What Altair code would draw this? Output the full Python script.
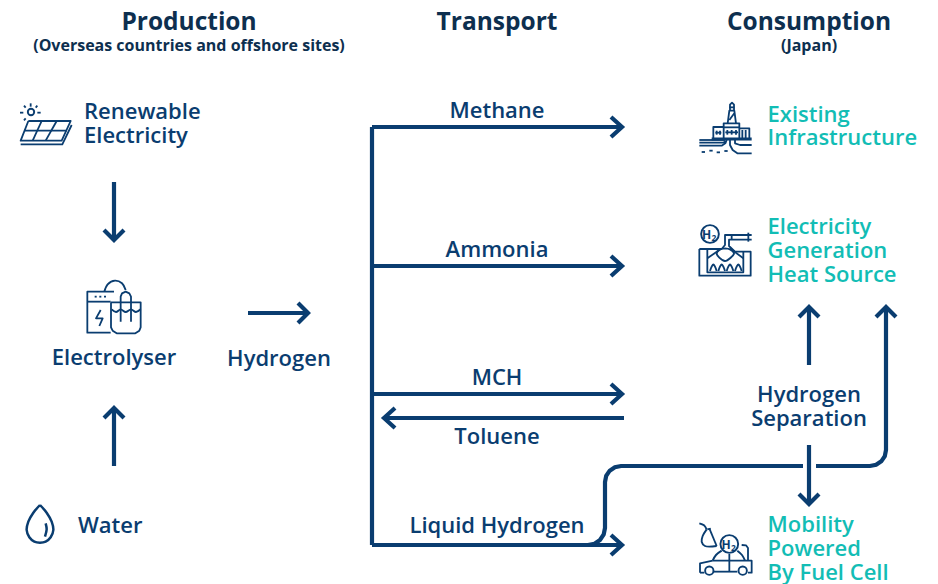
import altair as alt
import pandas as pd

NAVY = "#0a3d70"
TEAL = "#12bdb5"
DARK = "#0d2f4f"
FONT = "Open Sans"

# (text, x, baseline y, size, weight, colour, align)
texts = [
    ("Production", 189, 30, 24.5, 700, DARK, "center"),
    ("(Overseas countries and offshore sites)", 189, 51, 16, 700, DARK, "center"),
    ("Transport", 497, 30, 24.5, 700, DARK, "center"),
    ("Consumption", 809, 30, 24.5, 700, DARK, "center"),
    ("(Japan)", 809, 51, 16, 700, DARK, "center"),
    ("Renewable", 84, 119, 22, 600, NAVY, "left"),
    ("Electricity", 84, 143, 22, 600, NAVY, "left"),
    ("Electrolyser", 114, 365, 22, 600, NAVY, "center"),
    ("Hydrogen", 279, 366, 22, 600, NAVY, "center"),
    ("Water", 78, 533, 22, 600, NAVY, "left"),
    ("Methane", 497, 118, 22, 600, NAVY, "center"),
    ("Ammonia", 497, 257, 22, 600, NAVY, "center"),
    ("MCH", 497, 385, 22, 600, NAVY, "center"),
    ("Toluene", 497, 444, 22, 600, NAVY, "center"),
    ("Liquid Hydrogen", 497, 533, 22, 600, NAVY, "center"),
    ("Hydrogen", 809, 402, 22, 600, NAVY, "center"),
    ("Separation", 809, 426, 22, 600, NAVY, "center"),
    ("Existing", 767.5, 122, 22, 600, TEAL, "left"),
    ("Infrastructure", 767.5, 145, 22, 600, TEAL, "left"),
    ("Electricity", 767.5, 234, 22, 600, TEAL, "left"),
    ("Generation", 767.5, 258, 22, 600, TEAL, "left"),
    ("Heat Source", 767.5, 282, 22, 600, TEAL, "left"),
    ("Mobility", 767.5, 532, 22, 600, TEAL, "left"),
    ("Powered", 767.5, 556, 22, 600, TEAL, "left"),
    ("By Fuel Cell", 767.5, 580, 22, 600, TEAL, "left"),
    ("H", 706.5, 238.5, 12, 700, NAVY, "center"),
    ("2", 714, 240.5, 8.5, 700, NAVY, "center"),
    ("H", 726, 548.5, 12, 700, NAVY, "center"),
    ("2", 733.5, 550.5, 8.5, 700, NAVY, "center"),
]

# Thick connector lines and arrow heads, in picture pixels
arrows = [
    [(372, 127), (372, 545)],
    [(372, 127), (621, 127)], [(611, 117), (622, 127), (611, 137)],
    [(372, 266), (621, 266)], [(611, 256), (622, 266), (611, 276)],
    [(372, 394), (621, 394)], [(611, 384), (622, 394), (611, 404)],
    [(624, 418), (386, 418)], [(395, 408), (384, 418), (395, 428)],
    [(372, 545), (621, 545)], [(611, 535), (622, 545), (611, 555)],
    [(114, 182), (114, 238)], [(104, 230), (114, 240), (124, 230)],
    [(114, 466), (114, 410)], [(104, 418), (114, 408), (124, 418)],
    [(248, 313), (306, 313)], [(298, 303), (308, 313), (298, 323)],
    [(809, 365), (809, 309)], [(799, 317), (809, 307), (819, 317)],
    [(809, 445), (809, 503)], [(799, 494), (809, 504), (819, 494)],
    [(588, 545), (594.5, 543.7), (600, 540), (603.7, 534.5), (605, 528), (605, 482),
     (606.2, 475.9), (609.7, 470.7), (614.9, 467.2), (621, 466), (803, 466)],
    [(816, 466), (870, 466), (876.1, 464.8), (881.3, 461.3), (884.8, 456.1), (886, 450), (886, 309)],
    [(876, 317), (886, 307), (896, 317)],
]

solar = (0, 90, [
    [(85, 93), (212, 93), (185, 152), (62, 152), (85, 93)],
    [(215, 105), (187, 163), (62, 163)],
    [(72, 122), (200, 122)], [(125, 93), (98, 152)], [(170, 93), (137, 152)],
    [(60, 68), (70, 68)], [(112, 68), (122, 68)], [(92, 40), (92, 50)],
    [(72, 47), (77, 53)], [(112, 47), (107, 53)], [(72, 91), (77, 85)],
])
electrolyser = (60, 270, [
    [(162, 65), (82, 65), (82, 188), (152, 188)],
    [(82, 95), (152, 95)],
    [(104, 80), (110, 80)], [(118, 80), (124, 80)], [(132, 80), (138, 80)],
    [(122, 120), (108, 145), (128, 145), (118, 168)],
    [(153, 97), (242, 97), (242, 172), (238, 182), (226, 190), (170, 190), (158, 182), (153, 172), (153, 97)],
    [(182, 155), (182, 80), (186, 70), (197, 65), (208, 70), (213, 80), (213, 155)],
])
electrolyser_smooth = (60, 270, [
    [(133, 65), (143, 43), (165, 32), (186, 40), (197, 60)],
    [(155, 118), (168, 126), (182, 118), (197, 126), (213, 118), (228, 126), (242, 118)],
])
offshore = (680, 90, [
    [(143, 100), (148, 62), (163, 62), (168, 100)],
    [(150, 60), (150, 44), (156, 38), (162, 44), (162, 60)],
    [(148, 52), (163, 52)],
    [(148, 90), (163, 70)],
    [(100, 145), (100, 111), (131, 111)],
    [(131, 145), (131, 100), (178, 100), (178, 145)], [(131, 112), (178, 112)],
    [(178, 115), (208, 115), (208, 145)],
    [(187, 120), (187, 145)], [(197, 120), (197, 145)],
    [(110, 122), (110, 134)], [(120, 122), (120, 134)], [(106, 128), (124, 128)],
    [(142, 120), (142, 134)], [(155, 120), (155, 134)], [(168, 120), (168, 134)], [(136, 127), (174, 127)],
    [(58, 150), (135, 150)],
    [(58, 158), (130, 158), (138, 154)],
    [(58, 167), (125, 167), (136, 160), (140, 150)],
    [(150, 150), (150, 165), (158, 180), (172, 190), (215, 190)],
    [(165, 150), (165, 160), (180, 165), (215, 165)],
    [(65, 186), (75, 186)], [(88, 182), (98, 182)], [(110, 187), (120, 187)], [(133, 183), (143, 183)],
])
furnace = (680, 215, [
    [(58, 102), (125, 102), (135, 90), (135, 60), (215, 60)],
    [(215, 74), (147, 74), (147, 93), (165, 110), (212, 110), (212, 182), (58, 182), (58, 102)],
    [(82, 102), (82, 172), (190, 172), (190, 110)],
    [(205, 53), (205, 80)], [(155, 60), (155, 74)],
    [(82, 130), (122, 102)], [(190, 130), (150, 100)],
])
furnace_smooth = (680, 215, [
    [(135, 100), (120, 103), (110, 115), (118, 128), (135, 138), (152, 128), (162, 115), (150, 103), (135, 100)],
    [(90, 168), (95, 155), (100, 148), (105, 155), (110, 168)],
    [(115, 168), (120, 155), (125, 148), (130, 155), (135, 168)],
    [(140, 168), (145, 155), (150, 148), (155, 155), (160, 168)],
    [(165, 168), (170, 155), (175, 148), (180, 155), (185, 168)],
])
car = (680, 510, [
    [(88, 55), (110, 108)],
    [(82, 58), (92, 56)],
    [(148, 132), (148, 185)],
    [(102, 185), (172, 185)],
    [(98, 152), (215, 152), (215, 188), (204, 188)],
    [(60, 188), (60, 160), (98, 152)],
    [(60, 188), (73, 188)],
    [(185, 105), (198, 106), (204, 114), (204, 152)],
])
car_smooth = (680, 510, [
    [(58, 40), (72, 46), (80, 58)],
    [(80, 58), (68, 78), (65, 95), (75, 108), (110, 108)],
    [(125, 122), (108, 135), (98, 152)],
    [(172, 122), (186, 135), (195, 152)],
])
platform = (680, 90, [[(95, 147), (215, 147)]])
drop_smooth = (10, 490, [
    [(90, 45), (70, 68), (55, 95), (50, 120), (58, 142), (73, 155), (90, 158),
     (107, 155), (122, 142), (130, 120), (125, 95), (110, 68), (90, 45)],
    [(107, 100), (110, 118), (105, 140)],
])

# Circle outlines: (x, y, radius) in picture pixels
circles = [
    (31, 112, 3.6),
    (710, 234, 10),
    (729.3, 544, 10),
    (709.3, 570.7, 4.7),
    (742.7, 570.7, 4.7),
]

X = alt.X("x:Q", scale=alt.Scale(domain=[8, 930]), axis=None)
Y = alt.Y("y:Q", scale=alt.Scale(domain=[584, 8]), axis=None)


def rows(polys):
    out = []
    for i, poly in enumerate(polys):
        for j, (x, y) in enumerate(poly):
            out.append({"id": i, "seq": j, "x": x, "y": y})
    return pd.DataFrame(out)


def icon_rows(groups):
    polys = []
    for ox, oy, strokes in groups:
        for s in strokes:
            polys.append([(ox + a / 3, oy + b / 3) for a, b in s])
    return rows(polys)


def lines(df, width, interp="linear", join="miter"):
    return alt.Chart(df).mark_line(
        color=NAVY, strokeWidth=width, interpolate=interp, strokeJoin=join, strokeCap="butt"
    ).encode(x=X, y=Y, detail="id:N", order="seq:Q")


layers = [
    lines(rows(arrows), 4.2),
    lines(icon_rows([solar, electrolyser, offshore, furnace, car]), 1.8, join="round"),
    lines(icon_rows([platform]), 3, join="round"),
    lines(icon_rows([electrolyser_smooth, furnace_smooth, car_smooth]), 1.9,
          interp="catmull-rom", join="round"),
    lines(icon_rows([drop_smooth]), 2.5, interp="catmull-rom", join="round"),
]

circ = pd.DataFrame([{"x": x, "y": y, "s": 3.14159 * r * r} for x, y, r in circles])
layers.append(
    alt.Chart(circ).mark_point(shape="circle", filled=False, color=NAVY, strokeWidth=1.9, opacity=1).encode(
        x=X, y=Y, size=alt.Size("s:Q", scale=None, legend=None)
    )
)

tdf = pd.DataFrame(texts, columns=["t", "x", "y", "size", "weight", "color", "align"])
for (size, weight, align), g in tdf.groupby(["size", "weight", "align"]):
    layers.append(
        alt.Chart(g).mark_text(
            font=FONT, fontSize=float(size), fontWeight=int(weight), align=align, baseline="alphabetic"
        ).encode(x=X, y=Y, text="t:N", color=alt.Color("color:N", scale=None, legend=None))
    )

chart = (
    alt.layer(*layers)
    .properties(width=922, height=576, padding=0, autosize=alt.AutoSizeParams(type="none"), background="white")
    .configure_view(stroke=None)
)
chart.save("out.html", embed_options={"renderer": "svg", "actions": False})
